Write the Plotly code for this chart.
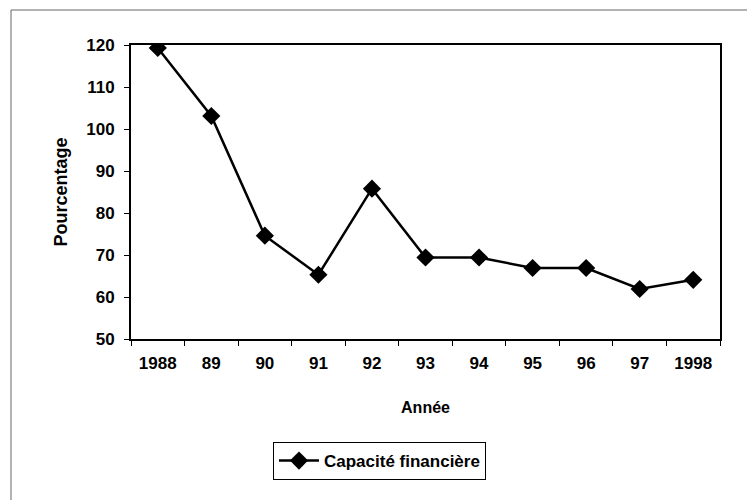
import plotly.graph_objects as go

annees = ["1988", "89", "90", "91", "92", "93", "94", "95", "96", "97", "1998"]
capacite = [119.3, 103.1, 74.6, 65.3, 85.8, 69.4, 69.4, 66.9, 66.9, 61.9, 64.1]

FONT = "Liberation Sans, Arial, sans-serif"

fig = go.Figure()
fig.add_trace(go.Scatter(
    x=annees, y=capacite, mode="lines+markers", name="Capacité financière",
    line=dict(color="black", width=2.5),
    marker=dict(symbol="diamond", size=14, color="black"),
))

# page has an 8px body margin; work in page pixels then shift
OFF = 8
W, H = 747, 492
L, T = 131 - OFF, 45 - OFF
R = W - (720 - OFF)
B = H - (339 - OFF)
pw, ph = W - L - R, H - T - B

def px(xpage):
    return (xpage - OFF - L) / pw

def py(ypage):
    return (H - B - (ypage - OFF)) / ph

fig.update_layout(
    width=W, height=H,
    margin=dict(l=L, r=R, t=T, b=B, pad=0),
    paper_bgcolor="white", plot_bgcolor="white",
    font=dict(family=FONT, size=17, color="black", weight="bold"),
    showlegend=True,
    legend=dict(
        x=px(273), y=py(442), xanchor="left", yanchor="top",
        bordercolor="black", borderwidth=1, bgcolor="white",
        font=dict(size=17, weight="bold"), itemwidth=40,
    ),
    xaxis=dict(
        type="category", range=[-0.5, 10.5],
        showline=True, linecolor="black", linewidth=2, mirror=True,
        ticks="outside", tickson="boundaries", ticklen=5, tickcolor="black",
        ticklabelstandoff=8,
        showgrid=False, zeroline=False,
        title=dict(text="Année", standoff=29, font=dict(size=16, weight="bold")),
    ),
    yaxis=dict(
        range=[50, 120], dtick=10, tick0=50,
        showline=True, linecolor="black", linewidth=2, mirror=True,
        ticks="outside", ticklen=5, tickcolor="black",
        ticklabelstandoff=6,
        showgrid=False, zeroline=False,
        title=dict(text="Pourcentage", standoff=14, font=dict(size=18, weight="bold")),
    ),
    shapes=[
        dict(type="line", xref="paper", yref="paper",
             x0=px(11), x1=px(770), y0=py(10), y1=py(10),
             line=dict(color="#666", width=1)),
        dict(type="line", xref="paper", yref="paper",
             x0=px(11), x1=px(11), y0=py(10), y1=py(520),
             line=dict(color="#666", width=1)),
    ],
)

fig.write_html("out.html")
